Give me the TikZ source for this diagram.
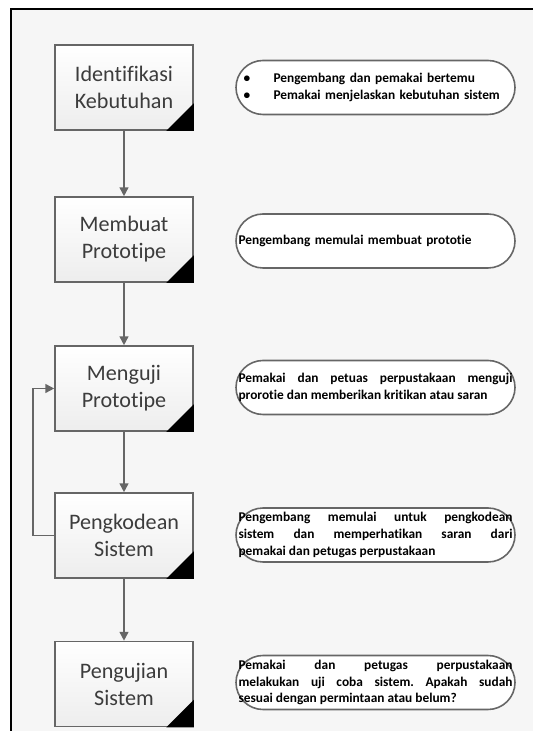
\documentclass[tikz,border=0pt]{standalone}
\usepackage{fontspec}
\setmainfont{Carlito}[RawFeature={-liga;-clig;-calt;-dlig}]
\usetikzlibrary{arrows.meta}
\definecolor{r100g100b100}{rgb}{0.400000,0.400000,0.400000}
\definecolor{r60g60b60}{rgb}{0.235000,0.235000,0.235000}
\definecolor{r246g246b246}{rgb}{0.965000,0.965000,0.965000}
\frenchspacing
\begin{document}
\begin{tikzpicture}[
    stage/.style={draw=r100g100b100, line width=0.9pt, top color=white, bottom color=gray!14,
        minimum width=2.760000cm, minimum height=1.700000cm, align=center,
        text=r60g60b60, font=\fontsize{12.6}{15.4}\selectfont},
    note/.style={draw=r100g100b100, line width=0.9pt, fill=white, rounded corners=0.540000cm,
        minimum width=5.580000cm, minimum height=1.080000cm, text width=5.480000cm,
        inner sep=0pt, align=justify, font=\bfseries\fontsize{7.6}{9.6}\selectfont},
    flow/.style={draw=r100g100b100, line width=0.9pt, -{Triangle[length=5pt,width=5pt]}}
]
        \useasboundingbox (0.000000,0.000000) rectangle (10.660000,14.620000);

        % Page frame
        \fill [r246g246b246] (0.220000,0.000000) rectangle (10.660000,14.440000);%
        \draw [line width=1.2pt] (0.220000,0.000000) -- (0.220000,14.440000) -- (10.660000,14.440000);%

        % Drawing stages
        \node [stage] (idn) at (2.480000,12.870000) {Identifikasi\\Kebutuhan};%
        \node [stage] (mbt) at (2.480000,9.830000) {Membuat\\Prototipe};%
        \node [stage] (mgj) at (2.480000,6.850000) {Menguji\\Prototipe};%
        \node [stage] (pkd) at (2.480000,3.910000) {Pengkodean\\Sistem};%
        \node [stage] (pgj) at (2.480000,0.940000) {Pengujian\\Sistem};%

        % Marking corners by black triangle
        \foreach \s in {idn,mbt,mgj,pkd,pgj}
            \fill (\s.south east) -- ++(-0.550000,0) -- ++(0.550000,0.550000) -- cycle;%

        % Drawing notes
        \node [note, align=left] (nidn) at (7.510000,12.870000)
            {\makebox[0.700000cm][l]{\hspace{0.1cm}\textbullet}Pengembang dan pemakai bertemu\\
             \makebox[0.700000cm][l]{\hspace{0.1cm}\textbullet}Pemakai menjelaskan kebutuhan sistem};%
        \node [note, align=left] (nmbt) at (7.510000,9.800000)
            {Pengembang memulai membuat prototie};%
        \node [note] (nmgj) at (7.510000,6.870000)
            {Pemakai dan petuas perpustakaan menguji\linebreak prorotie dan memberikan kritikan atau saran};%
        \node [note] (npkd) at (7.510000,3.920000)
            {Pengembang memulai untuk pengkodean\linebreak sistem dan memperhatikan saran dari\linebreak pemakai dan petugas perpustakaan};%
        \node [note] (npgj) at (7.510000,0.970000)
            {Pemakai dan petugas perpustakaan\linebreak melakukan uji coba sistem. Apakah sudah\linebreak sesuai dengan permintaan atau belum?};%

        % Drawing flow
        \draw [flow] (idn) -- (mbt);%
        \draw [flow] (mbt) -- (mgj);%
        \draw [flow] (mgj) -- (pkd);%
        \draw [flow] (pkd) -- (pgj);%

        % Drawing loop back
        \draw [flow] (pkd.west) -- ++(-0.420000,0) |- (mgj.west);%
    \end{tikzpicture}
\end{document}
